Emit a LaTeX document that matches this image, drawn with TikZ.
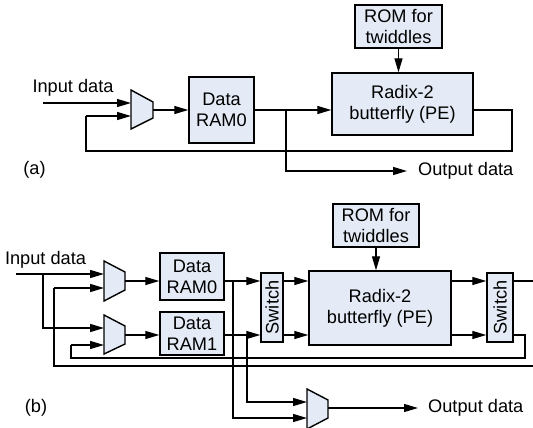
\documentclass[tikz,border=0pt]{standalone}
\usepackage{fontspec}
\setmainfont{Liberation Sans}
\usetikzlibrary{arrows.meta}
\definecolor{boxfill}{RGB}{228,235,246}
\tikzset{
  x=1pt, y=-1pt,
  wire/.style={line width=1.3pt},
  arr/.style={wire, -{Triangle[length=14pt,width=8pt]}},
  blk/.style={draw, line width=1.4pt, fill=boxfill, align=center, inner sep=0pt,
              font=\fontsize{18.2}{21}\selectfont},
  lbl/.style={inner sep=0pt, font=\fontsize{18.2}{21}\selectfont},
  muxshape/.style={draw, line width=1.4pt, fill=boxfill, line join=miter},
}
\begin{document}
\begin{tikzpicture}
\useasboundingbox (0,0) rectangle (533,428);

% ---------------- (a) single-memory architecture ----------------
\node[blk, minimum width=65pt, minimum height=66pt] (ram0a) at (221.5,110) {Data\\RAM0};
\node[blk, minimum width=87pt, minimum height=43pt] (roma) at (398.5,26.5) {ROM for\\twiddles};
\node[blk, minimum width=141pt, minimum height=62pt] (pea) at (402.5,104) {Radix-2\\butterfly (PE)};

\draw[muxshape] (131,90) -- (153,102) -- (153,118) -- (131,129) -- cycle;
\coordinate (muxa-in1) at (131,103);
\coordinate (muxa-in2) at (131,116);
\coordinate (muxa-out) at (153,110);

\node[lbl] (ina) at (73,88) {Input data};
\coordinate (ina-start) at (43,103);
\draw[arr] (ina-start) -- (muxa-in1);
\draw[arr] (muxa-out) -- (muxa-out -| ram0a.west);

\draw[arr] (ram0a.east) -- (ram0a.east -| pea.west);
\draw[arr] (roma.south) -- (roma.south |- pea.north);

\coordinate (taa) at (286,110);
\node[lbl, anchor=west] (outa) at (418,171) {Output data};
\draw[arr] (taa) |- ([xshift=-11pt]outa.west);

\coordinate (pea-out) at (pea.east |- ram0a.east);
\draw[wire] (pea-out) -- (512,110) -- (512,151) -- (86,151) -- (86,116);
\draw[arr] (86,116) -- (muxa-in2);

\node[lbl] (capa) at (34.5,170) {(a)};

% ---------------- (b) dual-memory architecture ----------------
\node[blk, minimum width=64pt, minimum height=47pt] (ram0b) at (192,276.5) {Data\\RAM0};
\node[blk, minimum width=64pt, minimum height=43pt] (ram1b) at (192,333.5) {Data\\RAM1};
\node[blk, minimum width=86pt, minimum height=43pt] (romb) at (376,225.5) {ROM for\\twiddles};
\node[blk, minimum width=142pt, minimum height=74pt] (peb) at (380,308) {Radix-2\\butterfly (PE)};
\node[blk, minimum width=22pt, minimum height=69pt] (swa) at (272,307.5) {};
\node[lbl, rotate=90] (swa-t) at (swa.center) {Switch};
\node[blk, minimum width=26pt, minimum height=69pt] (swb) at (500,307.5) {};
\node[lbl, rotate=90] (swb-t) at (swb.center) {Switch};

% input multiplexers
\draw[muxshape] (104,261) -- (125,272) -- (125,290) -- (104,301) -- cycle;
\coordinate (mux0-in1) at (104,274);
\coordinate (mux0-in2) at (104,288);
\coordinate (mux0-out) at (125,281);
\draw[muxshape] (104,315) -- (125,326) -- (125,344) -- (104,354) -- cycle;
\coordinate (mux1-in1) at (104,328);
\coordinate (mux1-in2) at (104,345);
\coordinate (mux1-out) at (125,335);
% output multiplexer
\draw[muxshape] (307,389) -- (328,400) -- (328,418) -- (307,429) -- cycle;
\coordinate (muxo-in1) at (307,402);
\coordinate (muxo-in2) at (307,418);
\coordinate (muxo-out) at (328,408);

\node[lbl] (inb) at (45.5,260) {Input data};
\coordinate (inb-start) at (16,274);
\coordinate (tin) at (43,274);
\draw[arr] (inb-start) -- (mux0-in1);
\draw[arr] (tin) |- (mux1-in1);

\draw[arr] (mux0-out) -- (mux0-out -| ram0b.west);
\draw[arr] (mux1-out) -- (mux1-out -| ram1b.west);

\coordinate (r0o) at (224,281);
\coordinate (r1o) at (224,335);
\draw[arr] (r0o) -- (r0o -| swa.west);
\draw[arr] (r1o) -- (r1o -| swa.west);

\draw[arr] (swa.east |- r0o) -- (peb.west |- r0o);
\draw[arr] (swa.east |- r1o) -- (peb.west |- r1o);
\draw[arr] (peb.east |- r0o) -- (swb.west |- r0o);
\draw[arr] (peb.east |- r1o) -- (swb.west |- r1o);

\draw[arr] (romb.south) -- (romb.south |- peb.north);

% taps to the output multiplexer
\coordinate (t0) at (233,281);
\coordinate (t1) at (247,335);
\draw[arr] (t0) |- (muxo-in2);
\draw[arr] (t1) |- (muxo-in1);

\node[lbl, anchor=west] (outb) at (428,408) {Output data};
\draw[arr] (muxo-out) -- ([xshift=-10pt]outb.west);

% feedback paths
\coordinate (edge-top) at (533,281);
\draw[wire] (swb.east |- r0o) -- (edge-top);
\draw[wire] (swb.east |- r1o) -- (525,335) -- (525,358) -- (71,358) -- (71,345);
\draw[arr] (71,345) -- (mux1-in2);
\coordinate (edge-bot) at (533,366);
\draw[wire] (edge-bot) -- (54,366) -- (54,288);
\draw[arr] (54,288) -- (mux0-in2);

\node[lbl] (capb) at (36,408) {(b)};
\end{tikzpicture}
\end{document}
